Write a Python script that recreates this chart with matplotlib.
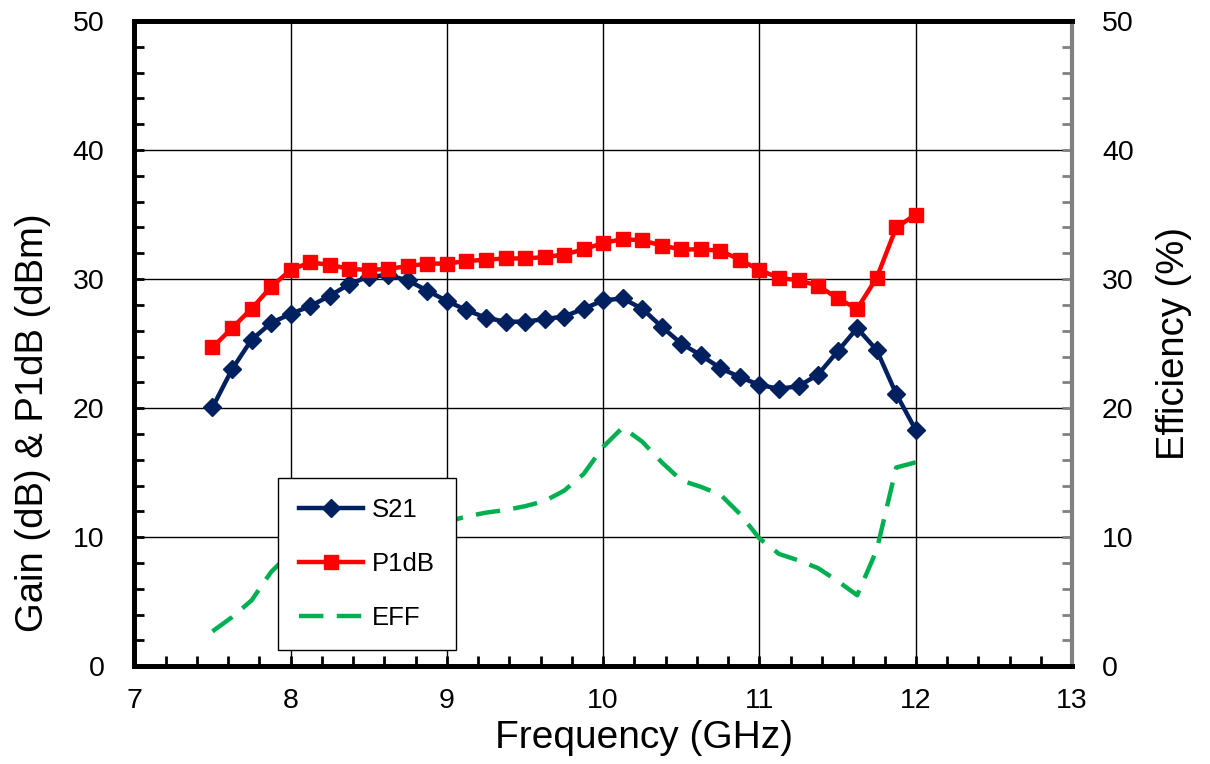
import numpy as np
import matplotlib.pyplot as plt
from matplotlib.ticker import MultipleLocator

plt.rcParams['font.family'] = ['Liberation Sans', 'DejaVu Sans']

# frequency points (GHz)
freq = [7.5, 7.625, 7.75, 7.875, 8.0, 8.125, 8.25, 8.375, 8.5, 8.625, 8.75, 8.875,
        9.0, 9.125, 9.25, 9.375, 9.5, 9.625, 9.75, 9.875, 10.0, 10.125, 10.25, 10.375,
        10.5, 10.625, 10.75, 10.875, 11.0, 11.125, 11.25, 11.375, 11.5, 11.625, 11.75,
        11.875, 12.0]

# gain (dB)
s21 = [20.05, 23.0, 25.3, 26.6, 27.3, 27.9, 28.7, 29.6, 30.2, 30.3, 29.9, 29.1,
       28.3, 27.6, 27.0, 26.7, 26.7, 26.9, 27.1, 27.7, 28.35, 28.5, 27.7, 26.3,
       25.0, 24.1, 23.1, 22.4, 21.8, 21.5, 21.7, 22.6, 24.4, 26.2, 24.5,
       21.1, 18.3]

# P1dB (dBm)
p1db = [24.7, 26.2, 27.7, 29.4, 30.7, 31.3, 31.1, 30.8, 30.7, 30.8, 31.0, 31.2,
        31.2, 31.4, 31.5, 31.6, 31.6, 31.7, 31.9, 32.3, 32.8, 33.1, 33.0, 32.6,
        32.3, 32.3, 32.2, 31.5, 30.7, 30.1, 29.9, 29.5, 28.5, 27.7, 30.1,
        34.0, 35.0]

# efficiency (%)
eff = [2.7, 3.8, 5.1, 7.3, 8.8, 9.5, 10.0, 10.3, 10.5, 10.7, 10.9, 11.0,
       11.2, 11.6, 11.9, 12.1, 12.4, 12.8, 13.6, 14.9, 17.0, 18.5, 17.4, 15.8,
       14.4, 13.9, 13.3, 11.8, 9.9, 8.7, 8.2, 7.6, 6.6, 5.5, 9.0,
       15.4, 15.8]

fig = plt.figure(figsize=(12.1, 7.64), dpi=100)
ax = fig.add_axes([0.111, 0.128, 0.775, 0.8445])
ax2 = ax.twinx()

l1, = ax.plot(freq, s21, color='#002060', lw=3.2, marker='D', markersize=9, label='S21')
l2, = ax.plot(freq, p1db, color='#FF0000', lw=3.2, marker='s', markersize=10, label='P1dB')
l3, = ax2.plot(freq, eff, color='#00B050', lw=3.2, dashes=(5.5, 3), label='EFF')

ax.set_xlim(7, 13)
ax.set_ylim(0, 50)
ax2.set_ylim(0, 50)
ax.xaxis.set_major_locator(MultipleLocator(1))
ax.xaxis.set_minor_locator(MultipleLocator(0.2))
ax.yaxis.set_major_locator(MultipleLocator(10))
ax.yaxis.set_minor_locator(MultipleLocator(2))
ax2.yaxis.set_major_locator(MultipleLocator(10))
ax2.yaxis.set_minor_locator(MultipleLocator(2))

ax.grid(True, which='major', color='black', lw=1)

ax.tick_params(which='both', direction='in', labelsize=20.5, top=False, right=False,
               length=7, width=2)
ax.tick_params(axis='x', which='both', pad=16)
ax.tick_params(axis='y', which='both', pad=21.5)
ax2.tick_params(which='both', direction='in', labelsize=20.5, pad=21.5, color='gray',
                length=7, width=2)

for side in ['left', 'bottom', 'top']:
    ax.spines[side].set_linewidth(3.5)
    ax2.spines[side].set_linewidth(3.5)
ax2.spines['right'].set_linewidth(3)
ax2.spines['right'].set_color('gray')
ax.spines['right'].set_visible(False)

ax.set_xlabel('Frequency (GHz)', fontsize=28)
ax.xaxis.set_label_coords(0.543, -0.084)
ax.set_ylabel('Gain (dB) & P1dB (dBm)', fontsize=27.5)
ax.yaxis.set_label_coords(-0.0885, 0.378)
ax2.set_ylabel('Efficiency (%)', fontsize=27.5, labelpad=16)

leg = ax2.legend(handles=[l1, l2, l3], loc='lower left', bbox_to_anchor=(0.1535, 0.025),
                 fontsize=18.5, numpoints=1, handlelength=2.5, labelspacing=1.15,
                 borderpad=0.8, fancybox=False, framealpha=1, edgecolor='black',
                 handletextpad=0.35, borderaxespad=0)
leg.get_frame().set_linewidth(1)

fig.savefig('out.png', dpi=100)
